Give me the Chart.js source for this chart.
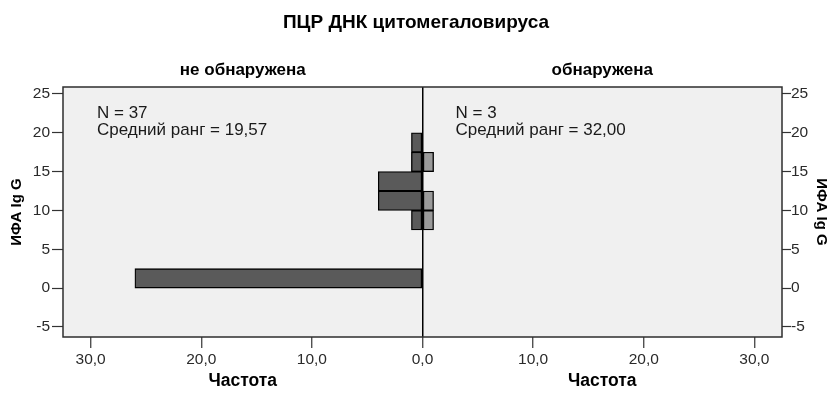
<!DOCTYPE html>
<html><head><meta charset="utf-8">
<script src="https://cdn.jsdelivr.net/npm/chart.js@4"></script>
<style>html,body{margin:0;padding:0;background:#fff}#wrap{width:832px;height:407px}</style>
</head><body><div id="wrap"><canvas id="c" width="832" height="407"></canvas></div>
<script>
const chartTitle = 'ПЦР ДНК цитомегаловируса';
const panelTitles = ['не обнаружена', 'обнаружена'];
const binCenters = [1.25, 8.75, 11.25, 13.75, 16.25, 18.75];
const notDetectedCounts = [26, 1, 4, 4, 1, 1];
const detectedCounts = [0, 1, 1, 0, 1, 0];
const freqTicks = [-30, -20, -10, 0, 10, 20, 30];
const freqTickLabels = ['30,0', '20,0', '10,0', '0,0', '10,0', '20,0', '30,0'];
const yTicks = [-5, 0, 5, 10, 15, 20, 25];
const panelStats = [['N = 37', 'Средний ранг = 19,57'], ['N = 3', 'Средний ранг = 32,00']];
const xAxisTitle = 'Частота';
const yAxisTitle = 'ИФА Ig G';

const X_MAX = 32.5, Y_MIN = -6.3, Y_MAX = 25.9;
const FONT = "'Liberation Sans', Arial, sans-serif";
Chart.defaults.font.family = FONT;

const leftData = binCenters.map((y, i) => notDetectedCounts[i] ? {y: y, x: [-notDetectedCounts[i], 0]} : null).filter(Boolean);
const rightData = binCenters.map((y, i) => detectedCounts[i] ? {y: y, x: [0, detectedCounts[i]]} : null).filter(Boolean);

const tickFont = {family: FONT, size: 15.5};
const tickColor = '#2a2a2a';

const panelPlugin = {
  id: 'panels',
  beforeDraw(chart) {
    const {ctx, chartArea: a} = chart;
    ctx.save();
    ctx.fillStyle = '#f0f0f0';
    ctx.fillRect(a.left, a.top, a.width, a.height);
    ctx.restore();
  },
  afterDatasetsDraw(chart) {
    const {ctx, chartArea: a} = chart;
    const xs = chart.scales.x;
    ctx.save();
    ctx.strokeStyle = '#2e2e2e';
    ctx.lineWidth = 1.5;
    ctx.strokeRect(a.left, a.top, a.width, a.height);
    ctx.fillStyle = '#1a1a1a';
    ctx.font = "17px " + FONT;
    ctx.textBaseline = 'alphabetic';
    ctx.textAlign = 'left';
    const starts = [xs.getPixelForValue(-X_MAX) + 34, xs.getPixelForValue(0) + 33];
    panelStats.forEach((lines, p) => {
      lines.forEach((t, k) => ctx.fillText(t, starts[p], a.top + 31 + k * 17));
    });
    ctx.restore();
  }
};

new Chart(document.getElementById('c'), {
  type: 'bar',
  data: {
    datasets: [
      {label: panelTitles[0], data: leftData, xAxisID: 'x', yAxisID: 'y', grouped: false,
       backgroundColor: '#5a5a5a', borderColor: '#000', borderWidth: 1.3, borderSkipped: false,
       barPercentage: 1, categoryPercentage: 1},
      {label: panelTitles[1], data: rightData, xAxisID: 'x', yAxisID: 'y', grouped: false,
       backgroundColor: '#9a9a9a', borderColor: '#000', borderWidth: 1.3, borderSkipped: false,
       barPercentage: 1, categoryPercentage: 1}
    ]
  },
  options: {
    indexAxis: 'y',
    responsive: false,
    animation: false,
    layout: {padding: 0},
    plugins: {
      legend: {display: false},
      tooltip: {enabled: false},
      title: {display: true, text: chartTitle, color: '#000',
              font: {family: FONT, size: 19, weight: 'bold'}, padding: {top: 11.6, bottom: 0}}
    },
    scales: {
      x: {
        type: 'linear', position: 'bottom', weight: 0, min: -X_MAX, max: X_MAX,
        afterBuildTicks: s => { s.ticks = freqTicks.map(v => ({value: v})); },
        ticks: {callback: (v, i) => freqTickLabels[i], autoSkip: false, maxRotation: 0,
                padding: 2, font: tickFont, color: tickColor},
        grid: {drawOnChartArea: true, drawTicks: true, tickLength: 11, lineWidth: 1.5, tickWidth: 1.2,
               color: ctx => (ctx.tick && ctx.tick.value === 0) ? '#000' : 'rgba(0,0,0,0)',
               tickColor: '#333'},
        border: {display: false},
        afterFit: s => { s.height = 34; }
      },
      xLab: {
        type: 'linear', position: 'bottom', axis: 'x', weight: 1, min: -X_MAX, max: X_MAX,
        afterBuildTicks: s => { s.ticks = [{value: -X_MAX / 2}, {value: X_MAX / 2}]; },
        ticks: {callback: () => xAxisTitle, autoSkip: false, maxRotation: 0, padding: 0,
                font: {family: FONT, size: 17.5, weight: 'bold'}, color: '#000'},
        grid: {display: false, drawTicks: false},
        border: {display: false},
        afterFit: s => { s.height = 36; }
      },
      xTop: {
        type: 'linear', position: 'top', axis: 'x', min: -X_MAX, max: X_MAX,
        afterBuildTicks: s => { s.ticks = [{value: -X_MAX / 2}, {value: X_MAX / 2}]; },
        ticks: {callback: (v, i) => panelTitles[i], autoSkip: false, maxRotation: 0, padding: 6.8,
                font: {family: FONT, size: 17, weight: 'bold'}, color: '#000'},
        grid: {display: false, drawTicks: false},
        border: {display: false},
        afterFit: s => { s.height = 52.6; }
      },
      y: {
        type: 'linear', position: 'left', min: Y_MIN, max: Y_MAX, offset: false,
        afterBuildTicks: s => { s.ticks = yTicks.map(v => ({value: v})); },
        ticks: {callback: v => String(v), padding: 2, font: tickFont, color: tickColor},
        grid: {drawOnChartArea: false, drawTicks: true, tickLength: 11, tickWidth: 1.2, tickColor: '#333', offset: false},
        border: {display: false},
        title: {display: true, text: yAxisTitle, color: '#000',
                font: {family: FONT, size: 15, weight: 'bold'}, padding: {top: 8, bottom: 0}},
        afterFit: s => { s.width = 63; }
      },
      y2: {
        type: 'linear', position: 'right', axis: 'y', min: Y_MIN, max: Y_MAX, offset: false,
        afterBuildTicks: s => { s.ticks = yTicks.map(v => ({value: v})); },
        ticks: {callback: v => String(v), padding: 0, font: tickFont, color: tickColor},
        grid: {drawOnChartArea: false, drawTicks: true, tickLength: 9, tickWidth: 1.2, tickColor: '#333', offset: false},
        border: {display: false},
        title: {display: true, text: yAxisTitle, color: '#000',
                font: {family: FONT, size: 15, weight: 'bold'}, padding: {top: 1.5, bottom: 0}},
        afterFit: s => { s.width = 50; }
      }
    }
  },
  plugins: [panelPlugin]
});
</script>
</body></html>
